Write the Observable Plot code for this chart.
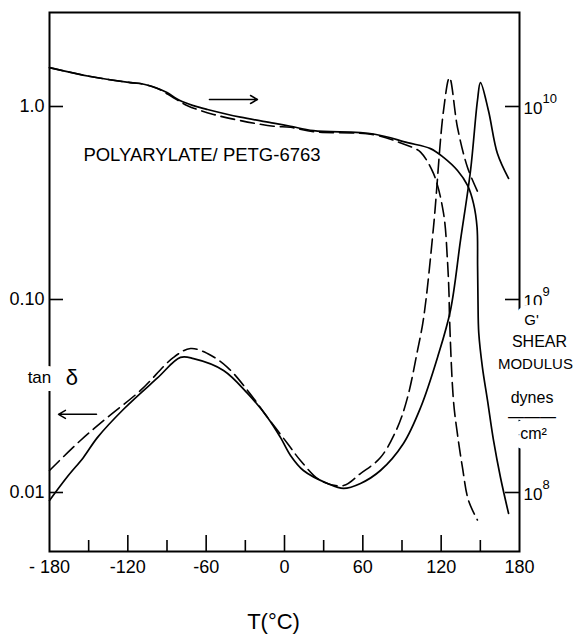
<!DOCTYPE html>
<html>
<head>
<meta charset="utf-8">
<script src="https://cdn.jsdelivr.net/npm/d3@7"></script>
<script src="https://cdn.jsdelivr.net/npm/@observablehq/plot@0.6"></script>
<style>
  html, body { margin: 0; padding: 0; background: #fff; }
  svg { display: block; }
</style>
</head>
<body>
<div id="chart"></div>
<script>
// ---------- DATA ----------
// tan δ, solid curve
const tanSolidT = [-180, -166.2, -154, -143.2, -123.3, -97.3, -79.7, -69.7, -46.7, -28.3, -13, -3.1, 4.6, 14.5, 32.9, 45.2, 58.2, 73.5, 91.1, 104.2, 117.2, 127.1, 134.8, 142.5, 147.8, 150.1, 156.2, 163.1, 171.6];
const tanSolidV = [0.0091, 0.0121, 0.0152, 0.0193, 0.0270, 0.0392, 0.0501, 0.0494, 0.0429, 0.0326, 0.0245, 0.0193, 0.01556, 0.0130, 0.01114, 0.0105, 0.01114, 0.0130, 0.01795, 0.0275, 0.0501, 0.0877, 0.2023, 0.466, 1.074, 1.33, 0.953, 0.570, 0.424];
// tan δ, dashed curve
const tanDashT = [-180, -156.3, -135.6, -110.3, -85, -72, -59, -43.7, -28.3, -13, 2.3, 12.2, 27.6, 45.2, 58.2, 73.5, 86.5, 94.2, 101.9, 106.5, 114.1, 121.8, 126.4, 132.5, 140.2, 148.6];
const tanDashV = [0.0130, 0.0186, 0.0245, 0.0338, 0.0501, 0.0557, 0.0525, 0.0445, 0.0338, 0.0245, 0.01795, 0.01466, 0.01153, 0.01086, 0.01254, 0.01517, 0.0217, 0.0310, 0.0545, 0.0798, 0.236, 0.953, 1.41, 0.778, 0.483, 0.354];
// G' shear modulus (dynes/cm²), solid curve
const gSolidT = [-180, -148.6, -118, -110.3, -102.6, -95, -90, -79.7, -69.7, -59, -33.7, -8.4, 4.6, 22.2, 68.2, 94.2, 111.8, 121.8, 132.5, 140.2, 144.8, 147.5, 147.9, 148.2, 148.8, 151.6, 155.5, 160.1, 165.4, 171.6];
const gSolidV = [1.59e10, 1.43e10, 1.33e10, 1.316e10, 1.277e10, 1.225e10, 1.18e10, 1.07e10, 1.01e10, 9.65e9, 8.8e9, 8.2e9, 7.9e9, 7.5e9, 7.2e9, 6.5e9, 6.05e9, 5.45e9, 4.66e9, 3.9e9, 3.14e9, 2.36e9, 1.5e9, 9.9e8, 6.7e8, 4.45e8, 3.0e8, 1.86e8, 1.2e8, 7.8e7];
// G' shear modulus (dynes/cm²), dashed curve
const gDashT = [-180, -148.6, -118, -107, -97.3, -85, -74.3, -54.4, -33.7, -8.4, 4.6, 22.2, 68.2, 91.1, 98.8, 104.2, 114.1, 121.8, 124.8, 126, 126.4, 129.4, 132.5, 136.3, 140.9, 147.8];
const gDashV = [1.59e10, 1.43e10, 1.33e10, 1.30e10, 1.24e10, 1.11e10, 1.01e10, 9.1e9, 8.45e9, 7.9e9, 7.8e9, 7.4e9, 7.15e9, 6.4e9, 6.1e9, 5.8e9, 4.5e9, 2.8e9, 1.6e9, 1.07e9, 8.1e8, 3.0e8, 2.0e8, 1.35e8, 9.1e7, 7.2e7];

// tick values and labels
const xTicks = [-180, -120, -60, 0, 60, 120, 180];
const xTickLabels = ["- 180", "-120", "-60", "0", "60", "120", "180"];
const xMajorInner = [-120, -60, 0, 60, 120];
const xMinorInner = [-150, -90, -30, 30, 90, 150];
const leftTicks = [0.01, 0.1, 1];
const leftTickLabels = ["0.01", "0.10", "1.0"];
const rightTicks = [1e8, 1e9, 1e10];

// ---------- LAYOUT ----------
const W = 576, H = 641;
const mL = 49, mR = 57, mT = 12, mB = 90;
const plotW = W - mL - mR, plotH = H - mT - mB;
const FONT = "'Liberation Sans', Arial, Helvetica, sans-serif";
const G_PER_TAN = 1e10; // right axis (G') shares the log scale, 10^10 ↔ 1.0

const rows = (ts, vs, k = 1) => ts.map((t, i) => ({t, v: vs[i] / k}));

// annotations (data coordinates)
const titleNote = [{t: -63.2, v: 0.557, s: "POLYARYLATE/ PETG-6763"}];
const arrowNotes = [
  {t1: -57.5, v1: 1.087, t2: -20.7, v2: 1.087},
  {t1: -144, v1: 0.0254, t2: -173.1, v2: 0.0254}
];
const tanNotes = [
  {t: -187.7, v: 0.0394, s: "tan", size: 17},
  {t: -162.8, v: 0.0394, s: "δ", size: 22}
];
const rightNotes = [
  {t: 189.2, v: 0.0780, s: "G'", size: 15, halo: 20},
  {t: 195.3, v: 0.0602, s: "SHEAR", size: 16, halo: 20},
  {t: 192.2, v: 0.0463, s: "MODULUS", size: 15, halo: 20},
  {t: 189.6, v: 0.0309, s: "dynes", size: 16, halo: 28},
  {t: 190.8, v: 0.0202, s: "cm²", size: 16, halo: 20}
];
const fractionBar = [{t: 189.6, v: 0.0247, s: "———", size: 16}];

const chart = Plot.plot({
  width: W,
  height: H,
  marginLeft: mL,
  marginRight: mR,
  marginTop: mT,
  marginBottom: mB,
  style: {fontFamily: FONT, fontSize: "18px", color: "black", background: "white"},
  x: {domain: [-180, 180]},
  y: {type: "log", domain: [0.004946, 3.069]},
  marks: [
    Plot.frame({strokeWidth: 2}),
    // inward ticks
    Plot.tickY(leftTicks, {y: d => d, insetRight: plotW - 14, strokeWidth: 1.6}),
    Plot.tickY(rightTicks, {y: d => d / G_PER_TAN, insetLeft: plotW - 14, strokeWidth: 1.6}),
    Plot.tickX(xMajorInner, {x: d => d, insetTop: plotH - 16, strokeWidth: 1.6}),
    Plot.tickX(xMinorInner, {x: d => d, insetTop: plotH - 11, strokeWidth: 1.6}),
    // tick labels
    Plot.axisX({ticks: xTicks, tickSize: 0, tickPadding: 9, label: null, fontSize: 18,
      tickFormat: d => xTickLabels[xTicks.indexOf(d)]}),
    Plot.axisY({anchor: "left", ticks: leftTicks, tickSize: 0, tickPadding: 5, label: null, fontSize: 18,
      tickFormat: d => leftTickLabels[leftTicks.indexOf(d)]}),
    Plot.text(rightTicks, {y: d => d / G_PER_TAN, text: () => "10", frameAnchor: "right",
      textAnchor: "start", dx: 4, dy: 2, fontSize: 17}),
    Plot.text(rightTicks, {y: d => d / G_PER_TAN, text: d => String(Math.round(Math.log10(d))),
      frameAnchor: "right", textAnchor: "start", dx: 23, dy: -8, fontSize: 13}),
    // curves
    Plot.line(rows(gSolidT, gSolidV, G_PER_TAN), {x: "t", y: "v", curve: "catmull-rom", strokeWidth: 1.7}),
    Plot.line(rows(gDashT, gDashV, G_PER_TAN), {x: "t", y: "v", curve: "catmull-rom", strokeWidth: 1.6, strokeDasharray: "14,6"}),
    Plot.line(rows(tanSolidT, tanSolidV), {x: "t", y: "v", curve: "catmull-rom", strokeWidth: 1.7}),
    Plot.line(rows(tanDashT, tanDashV), {x: "t", y: "v", curve: "catmull-rom", strokeWidth: 1.6, strokeDasharray: "14,6"}),
    // arrows
    Plot.arrow(arrowNotes, {x1: "t1", y1: "v1", x2: "t2", y2: "v2", headLength: 8, strokeWidth: 1.5, bend: 0}),
    // texts
    Plot.text(titleNote, {x: "t", y: "v", text: "s", fontSize: 18.5}),
    Plot.text(tanNotes, {x: "t", y: "v", text: "s", fontSize: d => d.size, stroke: "white", strokeWidth: 16, fill: "black", paintOrder: "stroke"}),
    ...rightNotes.map(n => Plot.text([n], {x: "t", y: "v", text: "s", fontSize: n.size, stroke: "white", strokeWidth: n.halo, fill: "black", paintOrder: "stroke"})),
    Plot.text(fractionBar, {x: "t", y: "v", text: "s", fontSize: d => d.size}),
    Plot.text(["T(°C)"], {x: () => -8.4, frameAnchor: "bottom", dy: 77, fontSize: 22})
  ]
});

document.getElementById("chart").appendChild(chart);
</script>
</body>
</html>
